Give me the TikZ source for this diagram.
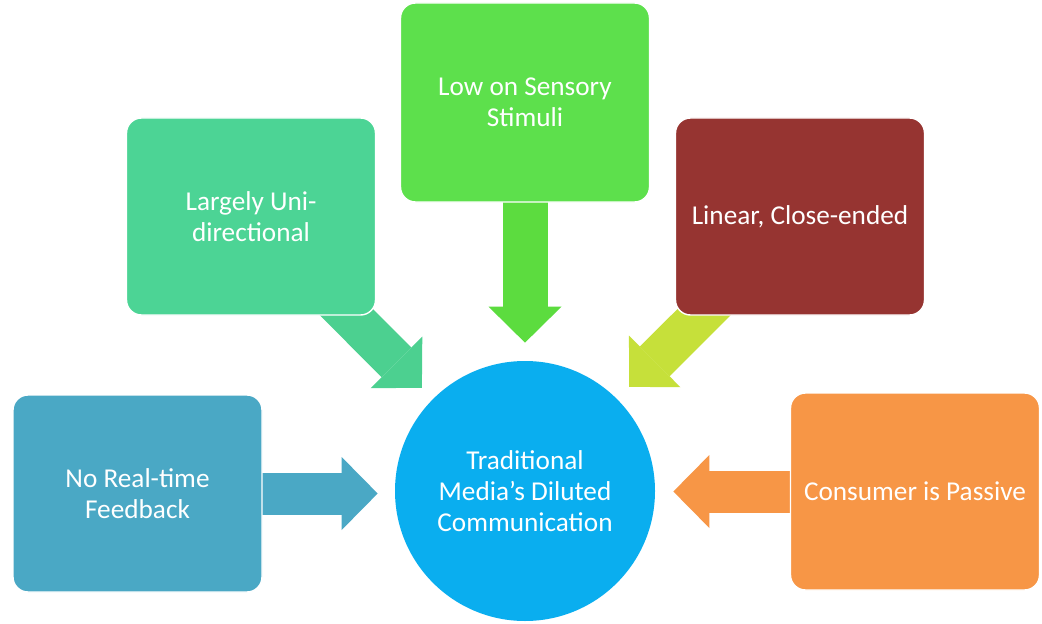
\documentclass[tikz,border=0pt]{standalone}
\usepackage{fontspec}
\setmainfont{Carlito}
\usepackage{tikz}
\usetikzlibrary{arrows.meta, backgrounds}
\usepackage{xcolor}
\definecolor{mFeedBlue}{HTML}{4AA8C5}
\definecolor{mUniGreen}{HTML}{4CD495}
\definecolor{mSenseGreen}{HTML}{5DE04C}
\definecolor{mLinearRed}{HTML}{963431}
\definecolor{mPassiveOrange}{HTML}{F79646}
\definecolor{mHubBlue}{HTML}{0AAEEF}
\definecolor{mUniArrow}{HTML}{4CD090}
\definecolor{mSenseArrow}{HTML}{5CDC3F}
\definecolor{mLinearArrow}{HTML}{C6E03A}

\begin{document}
\begin{tikzpicture}[>={Triangle[width=1.46cm,length=0.72cm,line width=0pt]},
    font=\fontsize{15.5}{17.5}\selectfont,
    box/.style={draw=white, line width=0.8pt, rounded corners=0.3cm, minimum width=4.98cm, minimum height=3.94cm, inner sep=0pt, text=white, align=center},
    flow/.style={->, line width=0.84cm}]
      \useasboundingbox (0,0) rectangle (20.84,12.46);
      \node[box, fill=mFeedBlue] (feedback) at (2.75,2.59) {No Real-time\\Feedback};
      \node[box, fill=mUniGreen] (unidir) at (5.02,8.13) {Largely Uni-\\directional};
      \node[box, fill=mSenseGreen, minimum height=3.98cm] (sensory) at (10.5,10.41) {Low on Sensory\\Stimuli};
      \node[box, fill=mLinearRed] (linear) at (16.0,8.13) {Linear, Close-ended};
      \node[box, fill=mPassiveOrange] (passive) at (18.3,2.63) {Consumer is Passive};
      \node[circle, fill=mHubBlue, minimum size=5.2cm, inner sep=0pt, text=white, align=center] (hub) at (10.5,2.64) {Traditional\\Media’s Diluted\\Communication};
      \begin{scope}[on background layer]
        \fill[white] (0,0) rectangle (20.84,12.46);
        \draw[flow, draw=mFeedBlue, shorten >=0.34cm] (feedback.center) -- (feedback.center -| hub.west);
        \draw[flow, draw=mUniArrow, shorten >=0.31cm] (unidir.center) -- (hub.135);
        \draw[flow, draw=mSenseArrow, line width=0.9cm, shorten >=0.36cm] (sensory.center) -- (hub.north);
        \draw[flow, draw=mLinearArrow, shorten >=0.34cm] (linear.center) -- (hub.45);
        \draw[flow, draw=mPassiveOrange, shorten >=0.36cm] (passive.center) -- (passive.center -| hub.east);
      \end{scope}
    \end{tikzpicture}
\end{document}
